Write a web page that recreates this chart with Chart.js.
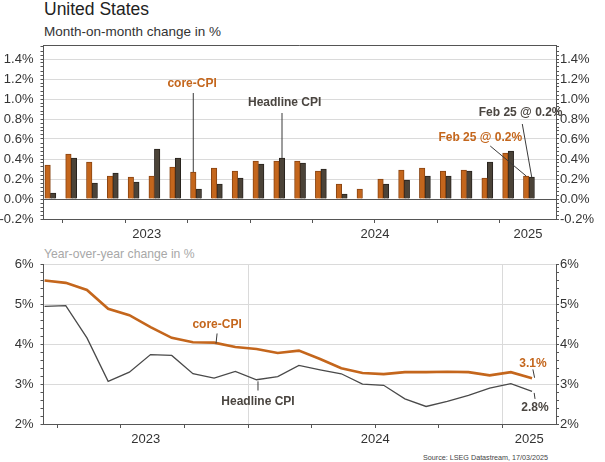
<!DOCTYPE html>
<html>
<head>
<meta charset="utf-8">
<script src="https://cdn.jsdelivr.net/npm/chart.js@4.4.1/dist/chart.umd.min.js"></script>
<style>
html,body{margin:0;padding:0;background:#fff;width:605px;height:462px;overflow:hidden;font-family:"Liberation Sans",Arial,sans-serif;}
.t{position:absolute;white-space:nowrap;line-height:1;}
#title{left:44px;top:1px;font-size:17.5px;color:#222;}
#sub1{left:44px;top:24.5px;font-size:13.5px;color:#333;}
#sub2{left:44px;top:248px;font-size:12.2px;color:#a8a8a8;}
#src{left:423px;top:454px;font-size:7.2px;color:#444;}
.box{position:absolute;left:0;width:605px;}
#topBox{top:40px;height:210px;}
#botBox{top:255px;height:190px;}
</style>
</head>
<body>
<div class="t" id="title">United States</div>
<div class="t" id="sub1">Month-on-month change in %</div>
<div class="t" id="sub2">Year-over-year change in %</div>
<div class="t" id="src">Source: LSEG Datastream, 17/03/2025</div>
<div class="box" id="topBox"><canvas id="c1"></canvas></div>
<div class="box" id="botBox"><canvas id="c2"></canvas></div>
<script>
// ---------------- data ----------------
const months = ['2023-03','2023-04','2023-05','2023-06','2023-07','2023-08','2023-09','2023-10','2023-11','2023-12',
                '2024-01','2024-02','2024-03','2024-04','2024-05','2024-06','2024-07','2024-08','2024-09','2024-10','2024-11','2024-12',
                '2025-01','2025-02'];
const coreMoM     = [0.34,0.45,0.37,0.23,0.22,0.23,0.32,0.27,0.31,0.28,0.38,0.38,0.38,0.28,0.15,0.10,0.20,0.29,0.31,0.28,0.29,0.21,0.46,0.23];
const headlineMoM = [0.06,0.41,0.16,0.26,0.17,0.50,0.41,0.10,0.15,0.21,0.35,0.41,0.36,0.30,0.05,0.00,0.15,0.19,0.23,0.23,0.28,0.37,0.48,0.22];
const coreYoY     = [5.60,5.54,5.36,4.89,4.73,4.43,4.16,4.05,4.04,3.93,3.88,3.78,3.84,3.63,3.40,3.28,3.25,3.30,3.30,3.31,3.30,3.22,3.30,3.15];
const headlineYoY = [4.95,4.97,4.16,3.07,3.30,3.74,3.72,3.26,3.15,3.32,3.11,3.19,3.47,3.36,3.26,3.00,2.97,2.63,2.44,2.57,2.72,2.90,3.01,2.82];
const yearLabels  = ['2023','2024','2025'];
const momTickValues = [-0.2,0.0,0.2,0.4,0.6,0.8,1.0,1.2,1.4];
const yoyTickValues = [2,3,4,5,6];

// ---------------- helpers ----------------
const FONT = '"Liberation Sans", Arial, sans-serif';
Chart.defaults.font.family = FONT;
const ORANGE = '#c4661c', ORANGE_EDGE = '#8a4512';
const DARK = '#4b4338', DARK_EDGE = '#28231e';
const LINE_DARK = '#4a4a4a';
const AXIS = '#555';
const GRID = '#dadada';
const NONE = 'rgba(0,0,0,0)';
const BASE_YEAR = 2023, IN_MONTH = 0.4;
function monthPos(s){ const p = s.split('-').map(Number); return (p[0]-BASE_YEAR)*12 + (p[1]-1) + IN_MONTH; }
function series(vals){ return vals.map((v,i)=>({x:monthPos(months[i]), y:v})); }
function noPad(s){ s.paddingTop = 0; s.paddingBottom = 0; s.paddingLeft = 0; s.paddingRight = 0; }

function xScale(min, max, vgrid, height){
  const centers = [(min+12)/2, 18, (24+max)/2];
  const quarters = []; for (let q=3; q<max; q+=3) quarters.push(q);
  const vals = quarters.slice();
  centers.forEach(v=>{ if(!vals.some(q=>Math.abs(q-v)<1e-6)) vals.push(v); });
  vals.sort((a,b)=>a-b);
  const isQ = v => quarters.some(q=>Math.abs(q-v)<1e-6);
  const yearOf = v => { const i = centers.findIndex(c=>Math.abs(c-v)<1e-6); return i<0 ? '' : yearLabels[i]; };
  return {
    type:'linear', min:min, max:max, offset:false,
    afterBuildTicks: s => { s.ticks = vals.map(v=>({value:v})); },
    afterFit: s => { s.height = height; noPad(s); },
    ticks:{ autoSkip:false, maxRotation:0, minRotation:0, padding:4, color:'#333', font:{size:13}, callback: v => yearOf(v) },
    grid:{ offset:false, drawOnChartArea: !!vgrid, tickLength:4, lineWidth:1,
      color: c => (vgrid && c.tick && (Math.abs(c.tick.value-12)<1e-6 || Math.abs(c.tick.value-24)<1e-6)) ? GRID : NONE,
      tickColor: c => (c.tick && isQ(c.tick.value)) ? AXIS : NONE },
    border:{ display:true, color:AXIS, width:1 }
  };
}
function yScale(pos, min, max, step, majors, fmt, gridColor, width){
  const vals = []; for (let i=0; ; i++){ const v = +(min + i*step).toFixed(4); if (v > max + 1e-9) break; vals.push(v); }
  const isMajor = v => majors.some(m=>Math.abs(m-v)<1e-6);
  return {
    type:'linear', position:pos, min:min, max:max,
    afterBuildTicks: s => { s.ticks = vals.map(v=>({value:v})); },
    afterFit: s => { s.width = width; noPad(s); },
    ticks:{ autoSkip:false, padding: pos==='left' ? 7 : 1, color:'#333', font:{size:13}, callback: v => isMajor(v) ? fmt(v) : '' },
    grid:{ drawOnChartArea: pos==='left', tickLength:3, tickColor:AXIS, lineWidth:1,
      color: c => (c.tick && isMajor(c.tick.value)) ? gridColor(c.tick.value) : NONE },
    border:{ display:true, color:AXIS, width:1 }
  };
}

const annotate = {
  id:'annotate',
  afterDatasetsDraw(chart, args, opts){
    const ctx = chart.ctx, xs = chart.scales.x, ys = chart.scales.y;
    ctx.save();
    if (opts.frameTop){
      ctx.strokeStyle = AXIS; ctx.lineWidth = 1;
      ctx.beginPath(); ctx.moveTo(chart.chartArea.left, chart.chartArea.top+0.5); ctx.lineTo(chart.chartArea.right, chart.chartArea.top+0.5); ctx.stroke();
    }
    (opts.items||[]).forEach(a=>{
      let x1 = xs.getPixelForValue(a.from[0]), y1 = ys.getPixelForValue(a.from[1]), x2, y2;
      if (a.bar){ const el = chart.getDatasetMeta(a.bar[0]).data[a.bar[1]]; x2 = el.x; y2 = el.y; if (a.vertical) x1 = x2; }
      else { x2 = xs.getPixelForValue(a.to[0]); y2 = ys.getPixelForValue(a.to[1]); }
      ctx.strokeStyle = '#3a3a3a'; ctx.lineWidth = 1;
      ctx.beginPath(); ctx.moveTo(x1, y1); ctx.lineTo(x2, y2); ctx.stroke();
      ctx.fillStyle = a.color; ctx.font = 'bold 12px ' + FONT;
      ctx.textAlign = 'center'; ctx.textBaseline = 'middle';
      ctx.fillText(a.text, xs.getPixelForValue(a.at[0]), ys.getPixelForValue(a.at[1]));
    });
    ctx.restore();
  }
};

const pct1 = v => v.toFixed(1) + '%';
const pct0 = v => v.toFixed(0) + '%';

// ---------------- top chart: MoM bars ----------------
new Chart(document.getElementById('c1'), {
  type:'bar',
  data:{ datasets:[
    { label:'core-CPI', data:series(coreMoM), backgroundColor:ORANGE, borderColor:ORANGE_EDGE, borderWidth:1, barThickness:5.5 },
    { label:'Headline CPI', data:series(headlineMoM), backgroundColor:DARK, borderColor:DARK_EDGE, borderWidth:1, barThickness:5.5 }
  ]},
  options:{
    responsive:true, maintainAspectRatio:false, animation:false,
    layout:{ padding:{ top:5, left:0, right:0, bottom:0 } },
    plugins:{ legend:{display:false}, tooltip:{enabled:false},
      annotate:{ frameTop:true, items:[
        { text:'core-CPI', color:ORANGE, at:[9.21,1.15], from:[9.21,1.06], bar:[0,7], vertical:true },
        { text:'Headline CPI', color:'#4a4540', at:[13.66,0.96], from:[13.66,0.86], bar:[1,11], vertical:true },
        { text:'Feb 25 @ 0.2%', color:'#4a4540', at:[25.0,0.86], from:[25.08,0.75], bar:[1,23] },
        { text:'Feb 25 @ 0.2%', color:ORANGE, at:[23.06,0.61], from:[23.54,0.53], bar:[0,23] }
      ]}
    },
    scales:{
      x: xScale(2.07, 26.7, false, 31),
      y: yScale('left', -0.2, 1.54, 0.04, momTickValues, pct1, v => Math.abs(v)<1e-6 ? AXIS : GRID, 43.5),
      y2: yScale('right', -0.2, 1.54, 0.04, momTickValues, pct1, v => NONE, 49)
    }
  },
  plugins:[annotate]
});

// ---------------- bottom chart: YoY lines ----------------
new Chart(document.getElementById('c2'), {
  type:'line',
  data:{ datasets:[
    { label:'core-CPI', data:series(coreYoY), borderColor:ORANGE, borderWidth:2.6, pointRadius:0, tension:0, fill:false },
    { label:'Headline CPI', data:series(headlineYoY), borderColor:LINE_DARK, borderWidth:1.3, pointRadius:0, tension:0, fill:false }
  ]},
  options:{
    responsive:true, maintainAspectRatio:false, animation:false,
    layout:{ padding:{ top:9.5, left:0, right:0, bottom:0 } },
    plugins:{ legend:{display:false}, tooltip:{enabled:false},
      annotate:{ items:[
        { text:'core-CPI', color:ORANGE, at:[10.54,4.5], from:[10.54,4.27], to:[10.49,4.02] },
        { text:'Headline CPI', color:'#4a4540', at:[12.47,2.57], from:[12.47,3.07], to:[12.47,2.84] },
        { text:'3.1%', color:ORANGE, at:[25.44,3.52], from:[25.44,3.37], to:[25.52,3.16] },
        { text:'2.8%', color:'#4a4540', at:[25.54,2.42], from:[25.5,2.78], to:[25.54,2.63] }
      ]}
    },
    scales:{
      x: xScale(2.35, 26.53, true, 21),
      y: yScale('left', 2, 6, 0.2, yoyTickValues, pct0, v => v<=2 ? NONE : GRID, 43.5),
      y2: yScale('right', 2, 6, 0.2, yoyTickValues, pct0, v => NONE, 49)
    }
  },
  plugins:[annotate]
});
</script>
</body>
</html>
